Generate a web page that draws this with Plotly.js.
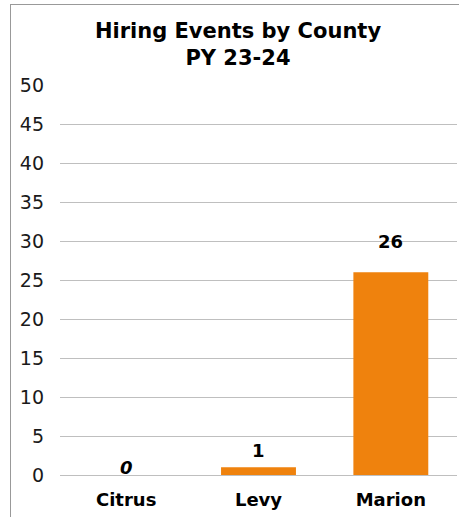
<!DOCTYPE html>
<html>
<head>
<meta charset="utf-8">
<script src="https://cdn.plot.ly/plotly-3.0.1.min.js"></script>
<style>
  html, body { margin: 0; padding: 0; background: #ffffff; overflow: hidden; }
  #frame { position: absolute; left: 10px; top: 4px; width: 480px; height: 540px;
           border-left: 1px solid #999999; border-top: 1px solid #999999; box-sizing: border-box; }
  #chart { position: absolute; left: 0; top: 0; width: 459px; height: 517px; }
</style>
</head>
<body>
<div id="frame"></div>
<div id="chart"></div>
<script>
const categories = ["Citrus", "Levy", "Marion"];
const hiringEvents = [0, 1, 26];
const labelTexts = ["<i>0</i>", "1", "26"];
const yTickValues = [0, 5, 10, 15, 20, 25, 30, 35, 40, 45, 50];
const chartTitle = "<b>Hiring Events by County<br>PY 23-24</b>";

const labelShift = [-5, 4, 18];
const FONT = "DejaVu Sans, Verdana, sans-serif";

const trace = {
  type: "bar",
  x: categories,
  y: hiringEvents,
  marker: { color: "#EF820D" },
  hoverinfo: "none"
};

const annotations = categories.map((c, i) => ({
  x: c, y: hiringEvents[i], xref: "x", yref: "y",
  text: "<b>" + labelTexts[i] + "</b>",
  showarrow: false, yanchor: "bottom", yshift: labelShift[i],
  font: { family: FONT, size: 18, color: "#000000" }
}));

const layout = {
  width: 459, height: 517,
  margin: { l: 60, r: 2, t: 85, b: 42 },
  paper_bgcolor: "rgba(0,0,0,0)",
  plot_bgcolor: "rgba(0,0,0,0)",
  font: { family: FONT, size: 18, color: "#000000" },
  showlegend: false,
  bargap: 0.434,
  title: {
    text: chartTitle,
    font: { family: FONT, size: 21, color: "#000000" },
    xref: "container", x: 238 / 459, xanchor: "center",
    yref: "container", y: 1 - 38 / 517, yanchor: "top"
  },
  xaxis: {
    type: "category",
    tickfont: { family: FONT, size: 18, color: "#000000", weight: "bold" },
    showgrid: false, showline: false, ticks: "",
    ticklabelstandoff: 12,
    fixedrange: true
  },
  yaxis: {
    range: [0, 50],
    tickvals: yTickValues,
    ticktext: yTickValues.map(String),
    tickfont: { family: FONT, size: 19, color: "#1a1a1a" },
    showgrid: true, gridcolor: "#BFBFBF", gridwidth: 1,
    zeroline: true, zerolinecolor: "#BFBFBF", zerolinewidth: 1,
    showline: false, ticks: "",
    ticklabelstandoff: 15,
    fixedrange: true
  },
  annotations: annotations
};

Plotly.newPlot("chart", [trace], layout, { displayModeBar: false, staticPlot: true });
</script>
</body>
</html>
